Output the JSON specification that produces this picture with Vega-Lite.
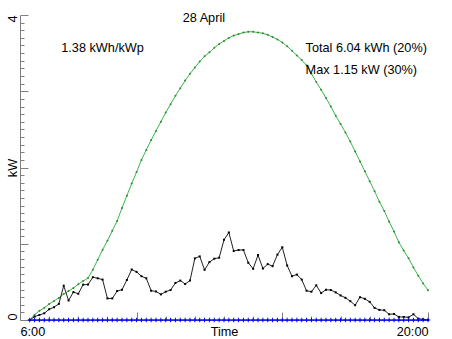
{
  "$schema": "https://vega.github.io/schema/vega-lite/v6.json",
  "width": 408,
  "height": 305,
  "autosize": {"type": "none"},
  "padding": {"left": 20, "top": 15, "right": 24, "bottom": 19},
  "config": {
    "font": "Liberation Sans",
    "view": {"stroke": null},
    "axis": {"grid": false, "domainColor": "#808080", "tickColor": "#808080", "labelColor": "#000000", "titleColor": "#000000", "labelFontSize": 12.7, "titleFontSize": 12.7, "titleFontWeight": "normal"}
  },
  "datasets": {
    "power": [
      {"minute": 380, "pv": 0, "clear": 0, "ref": 0},
      {"minute": 390, "pv": 0.044, "clear": 0.07, "ref": 0},
      {"minute": 400, "pv": 0.066, "clear": 0.12, "ref": 0},
      {"minute": 410, "pv": 0.088, "clear": 0.16, "ref": 0},
      {"minute": 420, "pv": 0.141, "clear": 0.21, "ref": 0},
      {"minute": 430, "pv": 0.168, "clear": 0.25, "ref": 0},
      {"minute": 440, "pv": 0.212, "clear": 0.29, "ref": 0},
      {"minute": 450, "pv": 0.45, "clear": 0.34, "ref": 0},
      {"minute": 460, "pv": 0.256, "clear": 0.38, "ref": 0},
      {"minute": 470, "pv": 0.366, "clear": 0.42, "ref": 0},
      {"minute": 480, "pv": 0.344, "clear": 0.47, "ref": 0},
      {"minute": 490, "pv": 0.464, "clear": 0.51, "ref": 0},
      {"minute": 500, "pv": 0.464, "clear": 0.55, "ref": 0},
      {"minute": 510, "pv": 0.561, "clear": 0.66, "ref": 0},
      {"minute": 520, "pv": 0.547, "clear": 0.79, "ref": 0},
      {"minute": 530, "pv": 0.53, "clear": 0.92, "ref": 0},
      {"minute": 540, "pv": 0.283, "clear": 1.04, "ref": 0},
      {"minute": 550, "pv": 0.283, "clear": 1.17, "ref": 0},
      {"minute": 560, "pv": 0.38, "clear": 1.3, "ref": 0},
      {"minute": 570, "pv": 0.397, "clear": 1.47, "ref": 0},
      {"minute": 580, "pv": 0.525, "clear": 1.63, "ref": 0},
      {"minute": 590, "pv": 0.662, "clear": 1.79, "ref": 0},
      {"minute": 600, "pv": 0.631, "clear": 1.94, "ref": 0},
      {"minute": 610, "pv": 0.574, "clear": 2.1, "ref": 0},
      {"minute": 620, "pv": 0.547, "clear": 2.23, "ref": 0},
      {"minute": 630, "pv": 0.384, "clear": 2.36, "ref": 0},
      {"minute": 640, "pv": 0.375, "clear": 2.48, "ref": 0},
      {"minute": 650, "pv": 0.336, "clear": 2.6, "ref": 0},
      {"minute": 660, "pv": 0.371, "clear": 2.72, "ref": 0},
      {"minute": 670, "pv": 0.393, "clear": 2.83, "ref": 0},
      {"minute": 680, "pv": 0.486, "clear": 2.94, "ref": 0},
      {"minute": 690, "pv": 0.517, "clear": 3.04, "ref": 0},
      {"minute": 700, "pv": 0.472, "clear": 3.14, "ref": 0},
      {"minute": 710, "pv": 0.517, "clear": 3.23, "ref": 0},
      {"minute": 720, "pv": 0.808, "clear": 3.31, "ref": 0},
      {"minute": 730, "pv": 0.834, "clear": 3.39, "ref": 0},
      {"minute": 740, "pv": 0.658, "clear": 3.46, "ref": 0},
      {"minute": 750, "pv": 0.759, "clear": 3.51, "ref": 0},
      {"minute": 760, "pv": 0.804, "clear": 3.57, "ref": 0},
      {"minute": 770, "pv": 0.817, "clear": 3.62, "ref": 0},
      {"minute": 780, "pv": 1.051, "clear": 3.66, "ref": 0},
      {"minute": 790, "pv": 1.148, "clear": 3.7, "ref": 0},
      {"minute": 800, "pv": 0.905, "clear": 3.73, "ref": 0},
      {"minute": 810, "pv": 0.918, "clear": 3.75, "ref": 0},
      {"minute": 820, "pv": 0.918, "clear": 3.77, "ref": 0},
      {"minute": 830, "pv": 0.751, "clear": 3.78, "ref": 0},
      {"minute": 840, "pv": 0.671, "clear": 3.78, "ref": 0},
      {"minute": 850, "pv": 0.852, "clear": 3.77, "ref": 0},
      {"minute": 860, "pv": 0.675, "clear": 3.76, "ref": 0},
      {"minute": 870, "pv": 0.733, "clear": 3.74, "ref": 0},
      {"minute": 880, "pv": 0.706, "clear": 3.71, "ref": 0},
      {"minute": 890, "pv": 0.857, "clear": 3.68, "ref": 0},
      {"minute": 900, "pv": 0.954, "clear": 3.64, "ref": 0},
      {"minute": 910, "pv": 0.715, "clear": 3.59, "ref": 0},
      {"minute": 920, "pv": 0.574, "clear": 3.53, "ref": 0},
      {"minute": 930, "pv": 0.596, "clear": 3.47, "ref": 0},
      {"minute": 940, "pv": 0.53, "clear": 3.41, "ref": 0},
      {"minute": 950, "pv": 0.384, "clear": 3.34, "ref": 0},
      {"minute": 960, "pv": 0.371, "clear": 3.23, "ref": 0},
      {"minute": 970, "pv": 0.455, "clear": 3.12, "ref": 0},
      {"minute": 980, "pv": 0.353, "clear": 3.02, "ref": 0},
      {"minute": 990, "pv": 0.397, "clear": 2.91, "ref": 0},
      {"minute": 1000, "pv": 0.393, "clear": 2.8, "ref": 0},
      {"minute": 1010, "pv": 0.362, "clear": 2.68, "ref": 0},
      {"minute": 1020, "pv": 0.322, "clear": 2.57, "ref": 0},
      {"minute": 1030, "pv": 0.291, "clear": 2.46, "ref": 0},
      {"minute": 1040, "pv": 0.247, "clear": 2.34, "ref": 0},
      {"minute": 1050, "pv": 0.194, "clear": 2.21, "ref": 0},
      {"minute": 1060, "pv": 0.3, "clear": 2.08, "ref": 0},
      {"minute": 1070, "pv": 0.278, "clear": 1.95, "ref": 0},
      {"minute": 1080, "pv": 0.238, "clear": 1.82, "ref": 0},
      {"minute": 1090, "pv": 0.159, "clear": 1.69, "ref": 0},
      {"minute": 1100, "pv": 0.132, "clear": 1.55, "ref": 0},
      {"minute": 1110, "pv": 0.128, "clear": 1.43, "ref": 0},
      {"minute": 1120, "pv": 0.075, "clear": 1.29, "ref": 0},
      {"minute": 1130, "pv": 0.079, "clear": 1.16, "ref": 0},
      {"minute": 1140, "pv": 0.04, "clear": 1.02, "ref": 0},
      {"minute": 1150, "pv": 0.04, "clear": 0.91, "ref": 0},
      {"minute": 1160, "pv": 0.035, "clear": 0.81, "ref": 0},
      {"minute": 1170, "pv": 0.075, "clear": 0.69, "ref": 0},
      {"minute": 1180, "pv": 0.018, "clear": 0.58, "ref": 0},
      {"minute": 1190, "pv": 0.009, "clear": 0.48, "ref": 0},
      {"minute": 1200, "pv": 0.0, "clear": 0.39, "ref": 0}
    ],
    "notes": [
      {"minute": 695, "kw": 3.911, "label": "28 April"},
      {"minute": 445, "kw": 3.51, "label": "1.38 kWh/kWp"},
      {"minute": 948, "kw": 3.515, "label": "Total 6.04 kWh (20%)"},
      {"minute": 948, "kw": 3.225, "label": "Max 1.15 kW (30%)"}
    ]
  },
  "resolve": {"axis": {"x": "independent", "y": "independent"}},
  "layer": [
    {
      "data": {"name": "power"},
      "mark": {"type": "line", "color": "#3cb44b", "strokeWidth": 1, "point": {"filled": true, "size": 4, "color": "#2e8b2e"}},
      "encoding": {
        "x": {
          "field": "minute", "type": "quantitative",
          "scale": {"domain": [360, 1200], "nice": false, "zero": false},
          "axis": {
            "orient": "bottom",
            "values": [360, 1200],
            "ticks": false,
            "labelExpr": "datum.value == 360 ? '6:00' : '20:00'",
            "labelFlush": true,
            "labelBaseline": "alphabetic",
            "labelPadding": 15.7,
            "title": "Time",
            "titleBaseline": "alphabetic",
            "titleY": 15.7
          }
        },
        "y": {
          "field": "clear", "type": "quantitative",
          "scale": {"domain": [0, 4], "nice": false},
          "axis": {
            "orient": "left",
            "values": [0, 4],
            "ticks": false,
            "labelAngle": -90,
            "labelAlign": {"condition": {"test": "datum.value == 0", "value": "left"}, "value": "right"},
            "labelBaseline": "middle",
            "labelPadding": 8,
            "labelFlush": false,
            "title": "kW",
            "titleAngle": -90,
            "titleAlign": "center",
            "titleBaseline": "middle",
            "titleX": -8,
            "titleY": 152.5
          }
        }
      }
    },
    {
      "data": {"name": "power"},
      "mark": {"type": "line", "color": "#222222", "strokeWidth": 1, "point": {"filled": true, "shape": "square", "size": 4, "color": "#000000"}},
      "encoding": {
        "x": {
          "field": "minute", "type": "quantitative",
          "axis": {
            "orient": "bottom",
            "values": [420, 480, 540, 660, 720, 780, 840, 960, 1020, 1080, 1140],
            "tickSize": -4,
            "labels": false,
            "domain": false,
            "title": null
          }
        },
        "y": {
          "field": "pv", "type": "quantitative",
          "axis": {
            "orient": "left",
            "values": [0.1, 0.2, 0.3, 0.4, 0.5, 0.6, 0.7, 0.8, 0.9, 1.1, 1.2, 1.3, 1.4, 1.5, 1.6, 1.7, 1.8, 1.9, 2.1, 2.2, 2.3, 2.4, 2.5, 2.6, 2.7, 2.8, 2.9, 3.1, 3.2, 3.3, 3.4, 3.5, 3.6, 3.7, 3.8, 3.9],
            "tickSize": -4,
            "labels": false,
            "domain": false,
            "title": null
          }
        }
      }
    },
    {
      "data": {"name": "power"},
      "mark": {"type": "line", "color": "#0000ff", "strokeWidth": 1, "point": {"filled": false, "shape": "M-1,0H1M0,-1V1", "size": 20, "strokeWidth": 1, "color": "#0000ff"}},
      "encoding": {
        "x": {
          "field": "minute", "type": "quantitative",
          "axis": {
            "orient": "bottom",
            "values": [600, 900, 1200],
            "tickSize": -8,
            "labels": false,
            "domain": false,
            "title": null
          }
        },
        "y": {
          "field": "ref", "type": "quantitative",
          "axis": {
            "orient": "left",
            "values": [0, 1, 2, 3, 4],
            "tickSize": -8,
            "labels": false,
            "domain": false,
            "title": null
          }
        }
      }
    },
    {
      "data": {"name": "notes"},
      "mark": {"type": "text", "align": "left", "baseline": "alphabetic", "fontSize": 12.7, "color": "#000000"},
      "encoding": {
        "x": {"field": "minute", "type": "quantitative", "axis": null},
        "y": {"field": "kw", "type": "quantitative", "axis": null},
        "text": {"field": "label"}
      }
    }
  ]
}
